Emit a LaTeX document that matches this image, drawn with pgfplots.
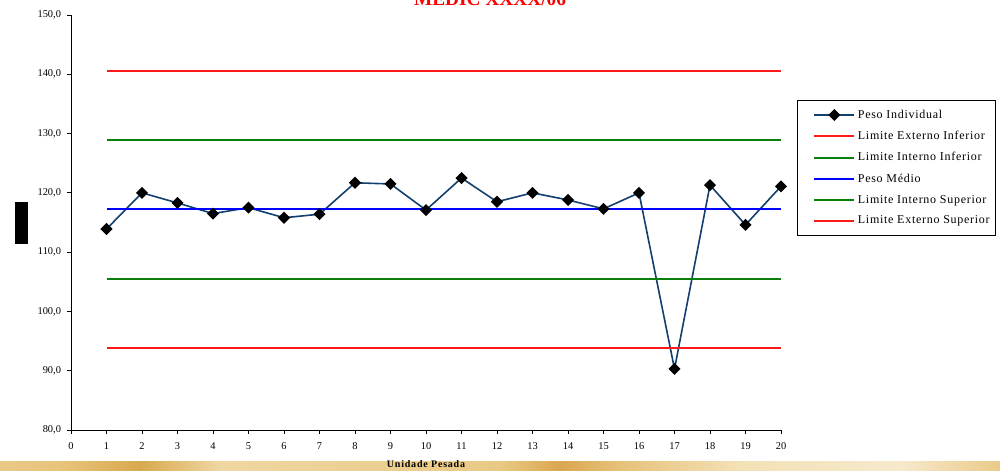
\documentclass[border=0pt]{standalone}
\usepackage{fontspec}
\setmainfont{Liberation Serif}
\newfontfamily\legfont[LetterSpace=6]{Liberation Serif}
\newfontfamily\labfont[LetterSpace=8]{Liberation Serif}
\usepackage{pgfplots}
\pgfplotsset{compat=1.18}
\definecolor{navyline}{HTML}{123F6E}
\definecolor{limred}{HTML}{FF1A1A}
\definecolor{limgreen}{HTML}{0A7F0A}
\definecolor{meanblue}{HTML}{1A1AF5}
\definecolor{bandA}{HTML}{F4E6C4}
\definecolor{bandB}{HTML}{EFD9A8}
\definecolor{bandC}{HTML}{DDB25E}
\definecolor{bandD}{HTML}{E6C27A}
\definecolor{bandE}{HTML}{DCAE58}
\definecolor{bandF}{HTML}{E4BD6E}
\definecolor{bandG}{HTML}{EDD097}
\definecolor{bandH}{HTML}{E8C47C}
\definecolor{bandI}{HTML}{D8A94E}
\definecolor{bandJ}{HTML}{EFD7A2}
\definecolor{bandK}{HTML}{E9C985}
\definecolor{bandL}{HTML}{DBA650}
\definecolor{bandM}{HTML}{F3E1B6}
\definecolor{bandN}{HTML}{F6E9CC}
\definecolor{bandO}{HTML}{E2BA68}
\definecolor{bandP}{HTML}{F5E8CA}
\definecolor{bandQ}{HTML}{F7EDD6}
\definecolor{bandR}{HTML}{E6C68A}
\definecolor{bandS}{HTML}{F2E0B8}
\pgfdeclarehorizontalshading{band}{100bp}{color(0bp)=(bandA); color(2bp)=(bandB); color(4bp)=(bandC); color(6bp)=(bandD); color(9bp)=(bandE); color(17bp)=(bandF); color(20bp)=(bandG); color(28bp)=(bandH); color(32bp)=(bandI); color(36bp)=(bandJ); color(50bp)=(bandK); color(53bp)=(bandL); color(56bp)=(bandD); color(62bp)=(bandM); color(70bp)=(bandN); color(76bp)=(bandH); color(82bp)=(bandO); color(86bp)=(bandP); color(93bp)=(bandQ); color(96bp)=(bandR); color(100bp)=(bandS)}
\begin{document}
\begin{tikzpicture}
\useasboundingbox (0,0) rectangle (750pt,353.25pt);
\clip (0,0) rectangle (750pt,353.25pt);
\shade[shading=band] (0,0) rectangle (750pt,6.75pt);
\fill[black] (11.25pt,170.25pt) rectangle (21pt,201.75pt);
\node[anchor=base, text=red, font=\bfseries\fontsize{14.5}{16}\selectfont, inner sep=0pt] at (367.5pt,349pt) {MEDIC XXXX/06};
\begin{axis}[
  at={(53.25pt,30.75pt)}, anchor=south west,
  scale only axis, width=532.5pt, height=311.25pt,
  xmin=0, xmax=20, ymin=80, ymax=150,
  axis x line*=bottom, axis y line*=left,
  axis line style={black, line width=0.6pt, -},
  xtick={0,1,...,20}, ytick={80,90,...,150},
  tick align=outside, major tick length=3pt,
  tick style={black, line width=0.6pt},
  /pgf/number format/assume math mode=true,
  ticklabel style={font=\fontsize{7.8}{9}\selectfont},
  xticklabel style={yshift=-3pt},
  yticklabel style={xshift=-1pt, /pgf/number format/.cd, fixed, fixed zerofill, precision=1, use comma},
  xlabel={Unidade Pesada},
  xlabel style={at={(axis description cs:0.5,-0.082)}, anchor=center, font=\labfont\bfseries\fontsize{7.5}{8}\selectfont},
  legend style={at={(1.0225,0.795)}, anchor=north west, draw=black, line width=0.6pt,
    font=\legfont\fontsize{9}{10}\selectfont, row sep=4.2pt, inner xsep=2pt, inner ysep=5pt},
  legend cell align=left,
  legend image code/.code={\path (0pt,0pt) (40pt,0pt);\draw[mark repeat=2,mark phase=2,#1] plot coordinates {(10pt,0pt) (25pt,0pt) (40pt,0pt)};},
]
\addplot[navyline, line width=1.2pt, mark=square*, mark size=2.6pt, forget plot,
  mark options={rotate=45, fill=black, draw=black, solid}] coordinates {
  (1,113.9) (2,120.0) (3,118.3) (4,116.5) (5,117.5)
  (6,115.8) (7,116.4) (8,121.7) (9,121.5) (10,117.1)
  (11,122.5) (12,118.5) (13,120.0) (14,118.8) (15,117.3)
  (16,120.0) (17,90.3) (18,121.3) (19,114.6) (20,121.1)};
\addplot[draw=limred, line width=1.3pt, forget plot] coordinates {(1,93.8) (20,93.8)};
\addplot[draw=limgreen, line width=1.3pt, forget plot] coordinates {(1,105.5) (20,105.5)};
\addplot[blue, line width=1.4pt, forget plot] coordinates {(1,117.25) (20,117.25)};
\addplot[draw=limgreen, line width=1.3pt, forget plot] coordinates {(1,128.9) (20,128.9)};
\addplot[draw=limred, line width=1.3pt, forget plot] coordinates {(1,140.6) (20,140.6)};
\addlegendimage{navyline, line width=1.2pt, mark=square*, mark size=2.6pt, mark options={rotate=45, fill=black, draw=black, solid}}
\addlegendentry{Peso Individual}
\addlegendimage{limred, line width=1.3pt}
\addlegendentry{Limite Externo Inferior}
\addlegendimage{limgreen, line width=1.3pt}
\addlegendentry{Limite Interno Inferior}
\addlegendimage{blue, line width=1.4pt}
\addlegendentry{Peso Médio}
\addlegendimage{limgreen, line width=1.3pt}
\addlegendentry{Limite Interno Superior}
\addlegendimage{limred, line width=1.3pt}
\addlegendentry{Limite Externo Superior}
\end{axis}
\end{tikzpicture}
\end{document}
